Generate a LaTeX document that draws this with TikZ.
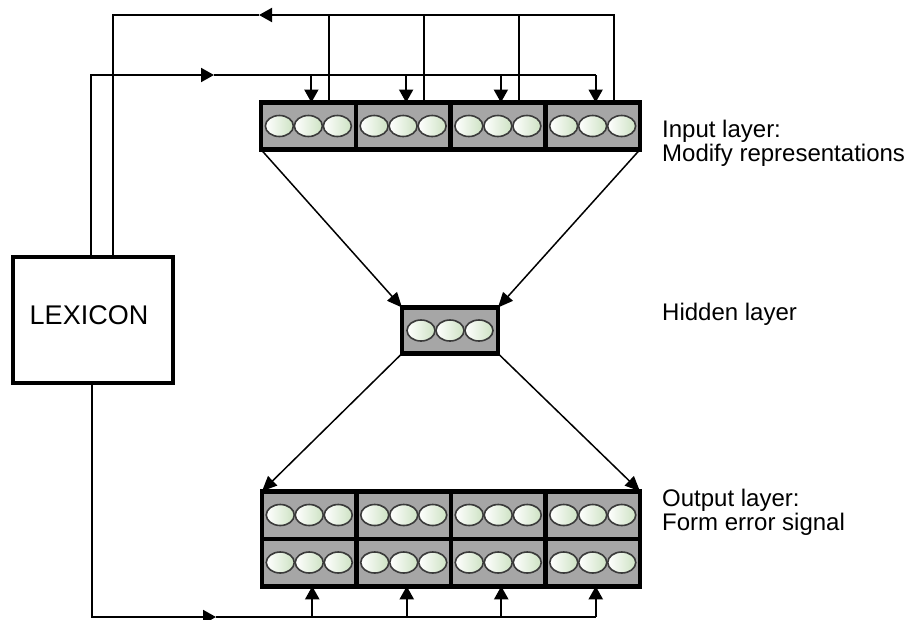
\documentclass[tikz,border=0pt]{standalone}
\usepackage{fontspec}
\setmainfont{Liberation Sans}
\usetikzlibrary{arrows.meta,calc}
\definecolor{cellgray}{HTML}{A6A6A6}
\definecolor{ugreen}{RGB}{205,226,195}
\definecolor{uline}{HTML}{3A3A3A}
\begin{document}
\begin{tikzpicture}[x=1pt,y=-1pt,
  conn/.style={line width=2pt,line join=miter},
  arr/.style={conn,-{Triangle[length=13pt,width=14pt]}},
  diag/.style={line width=1.5pt,-{Triangle[length=15pt,width=13pt]}},
  cellbox/.style={draw=black,line width=4.5pt,fill=cellgray,minimum width=94.75pt,minimum height=47pt,inner sep=0pt,outer sep=0pt},
  lexbox/.style={draw=black,line width=4pt,fill=white,minimum width=160pt,minimum height=126pt,inner sep=0pt,outer sep=0pt},
  unitsty/.style={draw=uline,line width=1.6pt,left color=white,middle color=white,right color=ugreen},
  lab/.style={font=\fontsize{24}{24}\selectfont,anchor=base west,inner sep=0pt},
  units/.pic={\foreach \dx in {-29,0,29}{\path[unitsty] (\dx,0) ellipse [x radius=14, y radius=10.5];}}
]
\useasboundingbox (0,0) rectangle (920,619);

% input layer
\foreach \i in {1,...,4}{
  \node[cellbox] (i\i) at ({261+94.75*(\i-0.5)},126) {};
  \pic at (i\i) {units};
}
% hidden layer
\node[cellbox,minimum width=96pt,minimum height=46pt] (hid) at (450,330.5) {};
\pic at (hid) {units};
% output layer
\foreach \i in {1,...,4}{
  \node[cellbox,minimum width=94.5pt,minimum height=47.5pt] (o\i) at ({262+94.5*(\i-0.5)},515) {};
  \pic at (o\i) {units};
  \node[cellbox,minimum width=94.5pt,minimum height=47.5pt] (p\i) at ({262+94.5*(\i-0.5)},562.5) {};
  \pic at (p\i) {units};
}
% lexicon
\node[lexbox] (lex) at (93,320) {};
\node[font=\fontsize{27}{27}\selectfont,inner sep=0pt] (lextext) at ($(lex.center)+(-4,-5)$) {LEXICON};

% labels
\node[lab] (inlabA) at (662,137) {Input layer:};
\node[lab] (inlabB) at (662,161) {Modify representations};
\node[lab] (hidlab) at (662,320) {Hidden layer};
\node[lab] (outlabA) at (662,506) {Output layer:};
\node[lab] (outlabB) at (662,530) {Form error signal};

% guide coordinates
\coordinate (top) at (0,15);
\coordinate (mid) at (0,75);
\coordinate (bot) at (0,617);
\coordinate (la) at ($(lex.north)+(-2,0)$);
\coordinate (lb) at ($(lex.north)+(20,0)$);
\coordinate (lc) at ($(lex.south)+(-1,0)$);
\coordinate (tarr) at (259,15);
\coordinate (marr) at (214,75);
\coordinate (barr) at (216,617);
\foreach \i in {1,...,4}{
  \coordinate (d\i) at ($(i\i.north)+(3,0)$);
  \coordinate (u\i) at ($(i\i.north)+(21,0)$);
  \coordinate (b\i) at ($(p\i.south)+(3,0)$);
}

% top feedback loop (input layer -> lexicon)
\foreach \i in {1,2,3}{ \draw[conn] (u\i) -- (u\i |- top); }
\draw[arr] (u4) -- (u4 |- top) -- (tarr);
\draw[conn] (tarr) -- (lb |- top) -- (lb);

% lexicon -> input layer
\draw[arr] (la) -- (la |- mid) -- (marr);
\draw[conn] (marr) -- (d4 |- mid);
\foreach \i in {1,...,4}{ \draw[arr] (d\i |- mid) -- (d\i); }

% lexicon -> output layer
\draw[arr] (lc) -- (lc |- bot) -- (barr);
\draw[conn] (barr) -- (b4 |- bot);
\foreach \i in {1,...,4}{ \draw[arr] (b\i |- bot) -- (b\i); }

% network connections
\draw[diag] (i1.south west) -- (hid.north west);
\draw[diag] (i4.south east) -- (hid.north east);
\draw[diag] (hid.south west) -- (o1.north west);
\draw[diag] (hid.south east) -- (o4.north east);
\end{tikzpicture}
\end{document}
